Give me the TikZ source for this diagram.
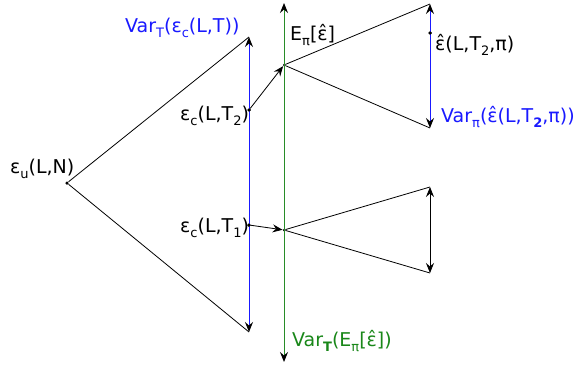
\documentclass[tikz,border=0pt]{standalone}
\usepackage{fontspec}
\setmainfont{DejaVu Sans}
\usetikzlibrary{arrows.meta}
\definecolor{myblue}{RGB}{25,25,255}
\definecolor{mygreen}{RGB}{25,135,25}
\definecolor{linegreen}{RGB}{40,140,40}
\newcommand\sbs[1]{\raisebox{-5.5pt}{\fontsize{13}{13}\selectfont #1}}
\begin{document}
\begin{tikzpicture}[x=1pt,y=-1pt,
  font=\fontsize{19}{23}\selectfont,
  >={Stealth[length=10pt,width=8pt,inset=3.5pt,color=black]},
  dot/.style={circle,fill=black,inner sep=0pt,minimum size=3.5pt},
  lbl/.style={inner sep=0pt,anchor=base west},
  blackline/.style={draw=black,line width=0.8pt},
  blueline/.style={draw=myblue,line width=1pt},
  greenline/.style={draw=linegreen,line width=1pt}]
\useasboundingbox (0,0) rectangle (576,367);
% points
\node[dot] (eu) at (67,183) {};
\coordinate (vtT) at (249,37);
\coordinate (vtB) at (249,332);
\coordinate (gT) at (284,3);
\coordinate (gB) at (284,362);
\node[dot] (c2) at (249,110) {};
\node[dot] (c1) at (249,225) {};
\node[dot,minimum size=2.5pt] (e2) at (284,65) {};
\node[dot,minimum size=2.5pt] (e1) at (284,230) {};
\coordinate (rT) at (430,4);
\coordinate (rB) at (430,128);
\node[dot] (rh) at (430,33) {};
\coordinate (sT) at (430,187);
\coordinate (sB) at (430,273);
% black connectors
\draw[blackline] (eu) -- (vtT);
\draw[blackline] (eu) -- (vtB);
\draw[blackline] (e2) -- (rT);
\draw[blackline] (e2) -- (rB);
\draw[blackline] (e1) -- (sT);
\draw[blackline] (e1) -- (sB);
% vertical double arrows
\draw[blueline,<->] (vtT) -- (vtB);
\draw[greenline,<->] (gT) -- (gB);
\draw[blueline,<->] (rT) -- (rB);
\draw[blackline,<->] (sT) -- (sB);
% arrows to expectations
\draw[blackline,->] (c2) -- (e2);
\draw[blackline,->] (c1) -- (e1);
% redraw dots on top
\fill (c2) circle (1.75pt);
\fill (c1) circle (1.75pt);
\fill (rh) circle (1.75pt);
% labels
\node[lbl] (leu) at (10,173) {ε\sbs{u}(L,N)};
\node[lbl,text=myblue] (lvt) at (125,32) {Var\sbs{T}(ε\sbs{c}(L,T))};
\node[lbl] (lep) at (290,40) {E\sbs{π}[ε̂]};
\node[lbl] (leh) at (435,50) {ε̂(L,T\sbs{2},π)};
\node[lbl,text=myblue] (lvp) at (441,122) {Var\sbs{π}(ε̂(L,T\sbs{\textbf{2}},π))};
\node[lbl] (lc2) at (180,120) {ε\sbs{c}(L,T\sbs{2})};
\node[lbl] (lc1) at (180,232) {ε\sbs{c}(L,T\sbs{1})};
\node[lbl,text=mygreen] (lvg) at (292,346) {Var\sbs{\textbf{T}}(E\sbs{π}[ε̂])};
\end{tikzpicture}
\end{document}
